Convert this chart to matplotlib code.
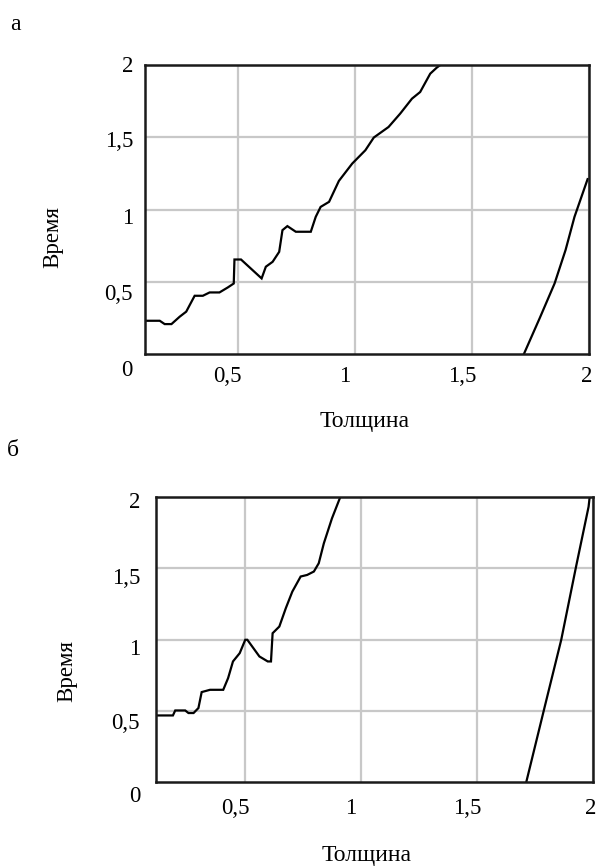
import matplotlib
matplotlib.use("Agg")
import matplotlib.pyplot as plt
from matplotlib.transforms import offset_copy

plt.rcParams["font.family"] = ["Liberation Serif", "DejaVu Serif"]

# -----------------------------
# DATA
# -----------------------------

tick_vals = [0.5, 1, 1.5, 2]
tick_text = ["0,5", "1", "1,5", "2"]
ytick_vals = [0, 0.5, 1, 1.5, 2]
ytick_text = ["0", "0,5", "1", "1,5", "2"]

# panel а
thk_a1 = [0.103, 0.167, 0.188, 0.217, 0.252, 0.280, 0.316, 0.351, 0.380, 0.422,
          0.458, 0.483, 0.486, 0.514, 0.602, 0.620, 0.649, 0.677, 0.691, 0.712,
          0.748, 0.812, 0.833, 0.854, 0.890, 0.932, 0.989, 1.045, 1.081, 1.144,
          1.194, 1.244, 1.279, 1.322, 1.350, 1.365]
time_a1 = [0.230, 0.230, 0.207, 0.207, 0.258, 0.293, 0.403, 0.403, 0.426, 0.426,
           0.461, 0.488, 0.654, 0.654, 0.523, 0.604, 0.638, 0.707, 0.857, 0.885,
           0.846, 0.846, 0.949, 1.018, 1.053, 1.198, 1.318, 1.410, 1.498, 1.571,
           1.664, 1.767, 1.813, 1.940, 1.982, 2.000]

thk_a2 = [1.722, 1.790, 1.853, 1.900, 1.938, 1.994]
time_a2 = [0.000, 0.250, 0.488, 0.720, 0.949, 1.210]

# panel б
thk_b1 = [0.120, 0.188, 0.198, 0.241, 0.255, 0.277, 0.298, 0.312, 0.348, 0.405,
          0.426, 0.447, 0.476, 0.500, 0.509, 0.561, 0.597, 0.611, 0.618, 0.647,
          0.675, 0.703, 0.739, 0.767, 0.796, 0.817, 0.839, 0.874, 0.910]
time_b1 = [0.467, 0.467, 0.502, 0.502, 0.484, 0.484, 0.519, 0.631, 0.647, 0.647,
           0.729, 0.846, 0.904, 0.998, 0.998, 0.881, 0.846, 0.846, 1.044, 1.091,
           1.220, 1.336, 1.442, 1.453, 1.477, 1.535, 1.675, 1.850, 2.000]

thk_b2 = [1.713, 1.792, 1.863, 1.927, 1.981, 1.985]
time_b2 = [0.005, 0.530, 0.998, 1.512, 1.932, 1.990]


# -----------------------------
# GRÁFICO
# -----------------------------

fig = plt.figure(figsize=(5.99, 8.66), dpi=100, facecolor="white")

W, H = 599, 866


def painel(rect_px, xlim, curves, xdy, ydx, ydys):
    l, t, r, b = rect_px
    ax = fig.add_axes([l / W, 1 - b / H, (r - l) / W, (b - t) / H])
    ax.set_xlim(*xlim)
    ax.set_ylim(0, 2)
    ax.set_xticks(tick_vals)
    ax.set_yticks(tick_vals)
    ax.grid(True, color="#c8c8c8", linewidth=1.6)
    ax.set_axisbelow(True)
    ax.tick_params(length=0, labelbottom=False, labelleft=False)
    for s in ax.spines.values():
        s.set_linewidth(1.8)
        s.set_color("#1a1a1a")

    for xs, ys in curves:
        ax.plot(xs, ys, color="black", linewidth=1.6, solid_joinstyle="miter")

    # x tick labels
    for i, (v, txt) in enumerate(zip(tick_vals, tick_text)):
        dx = -2 if i == len(tick_vals) - 1 else -10
        tr = offset_copy(ax.get_xaxis_transform(), fig=fig, x=dx, y=xdy, units="dots")
        ax.text(v, 0, txt, transform=tr, ha="center", va="center", fontsize=16.5)

    # y tick labels
    for v, txt, dy in zip(ytick_vals, ytick_text, ydys):
        tr = offset_copy(ax.get_yaxis_transform(), fig=fig, x=ydx, y=dy, units="dots")
        ax.text(0, v, txt, transform=tr, ha="right", va="center", fontsize=16.5)
    return ax


ax1 = painel((145, 65, 589, 354), (0.104, 1.994),
             [(thk_a1, time_a1), (thk_a2, time_a2)],
             xdy=-23, ydx=-12, ydys=[-16, -13, -9, -4, -2])

ax2 = painel((156, 497, 593, 782), (0.115, 1.985),
             [(thk_b1, time_b1), (thk_b2, time_b2)],
             xdy=-26, ydx=-16, ydys=[-15, -13, -10, -10, -6])

# captions and axis titles
fig.text(15 / W, 1 - 25 / H, "а", ha="center", va="center", fontsize=17)
fig.text(13 / W, 1 - 450 / H, "б", ha="center", va="center", fontsize=17)

fig.text(53 / W, 1 - 237 / H, "Время", rotation=90, ha="center", va="center", fontsize=16.5)
fig.text(67 / W, 1 - 671 / H, "Время", rotation=90, ha="center", va="center", fontsize=16.5)

fig.text(365 / W, 1 - 422 / H, "Толщина", ha="center", va="center", fontsize=17)
fig.text(367 / W, 1 - 855 / H, "Толщина", ha="center", va="center", fontsize=17)

plt.savefig("out.png", dpi=100, facecolor="white")
